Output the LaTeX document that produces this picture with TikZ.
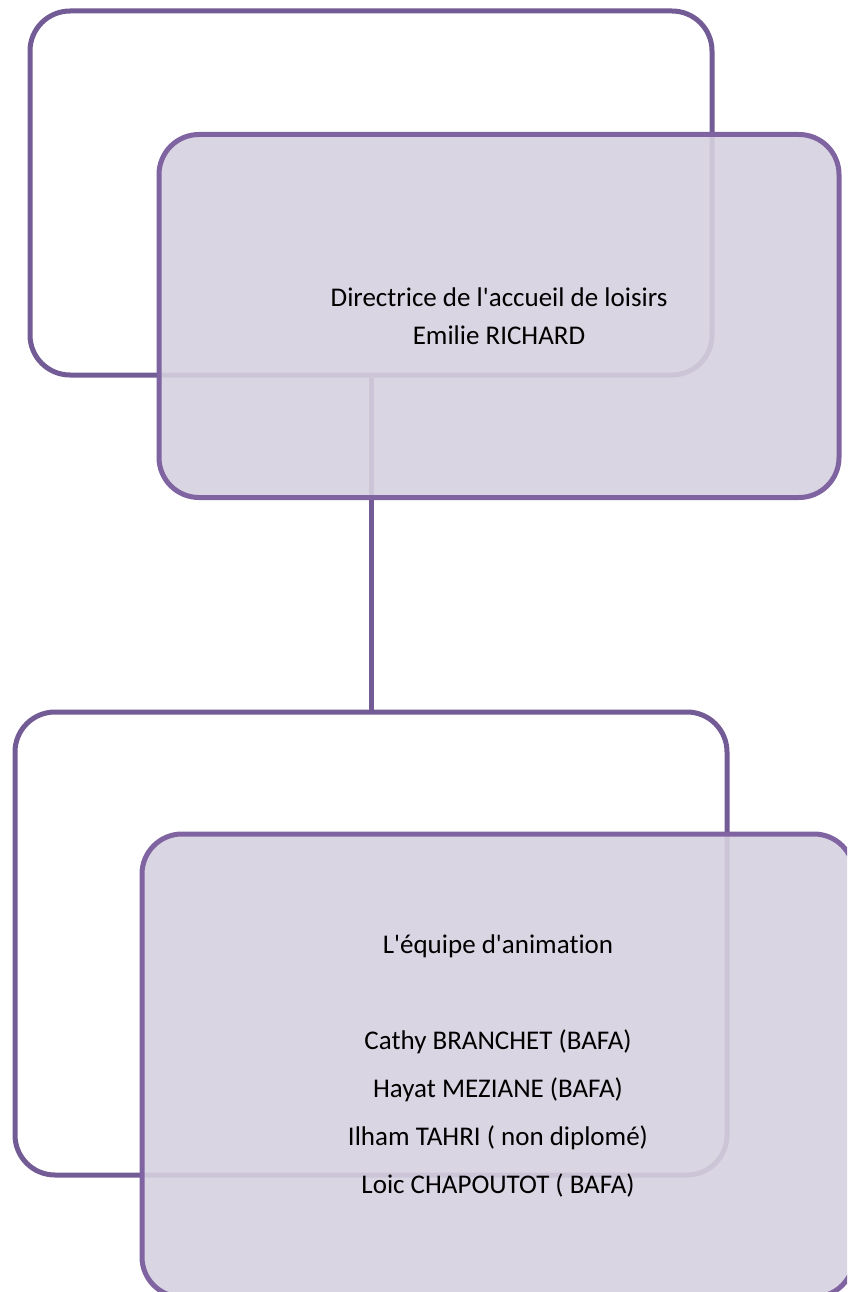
\documentclass[tikz,border=0pt]{standalone}
\usepackage{fontspec}
\newfontfamily\labfont{Carlito}[Ligatures=NoCommon]
\definecolor{backline}{HTML}{735B96}
\definecolor{frontline}{HTML}{8064A2}
\definecolor{frontfill}{HTML}{D6D1DF}
\tikzset{
  backbox/.style={draw=backline, line width=5pt, rounded corners=40pt, rectangle,
    minimum width=682pt, minimum height=364pt, inner sep=0pt},
  frontbox/.style={draw=frontline, line width=5pt, rounded corners=40pt, rectangle,
    fill=frontfill, fill opacity=0.9, text opacity=1, draw opacity=1,
    minimum width=680pt, minimum height=363pt, inner sep=0pt, align=center, text=black},
  link/.style={draw=backline, line width=5pt}
}
\begin{document}
\begin{tikzpicture}[x=1pt, y=-1pt]
\useasboundingbox (0,0) rectangle (847,1292);
\clip (0,0) rectangle (847,1292);
\fill[white] (0,0) rectangle (847,1292);
% back boxes
\node[backbox] (topback) at (371,193) {};
\node[backbox, minimum width=712pt, minimum height=463pt] (botback) at (371,943.5) {};
% connector
\draw[link] (topback.south) -- (botback.north);
% front boxes
\node[frontbox, font=\labfont\fontsize{27}{38}\selectfont] (topfront) at (499,316)
  {Directrice de l\textquotesingle accueil de loisirs\\Emilie RICHARD};
\node[frontbox, minimum width=712pt, minimum height=463pt, font=\labfont\fontsize{27}{48}\selectfont] (botfront) at (498,1065.5)
  {L\textquotesingle équipe d\textquotesingle animation\\[48pt]Cathy BRANCHET (BAFA)\\Hayat MEZIANE (BAFA)\\Ilham TAHRI ( non diplomé)\\Loic CHAPOUTOT ( BAFA)};
\end{tikzpicture}
\end{document}
